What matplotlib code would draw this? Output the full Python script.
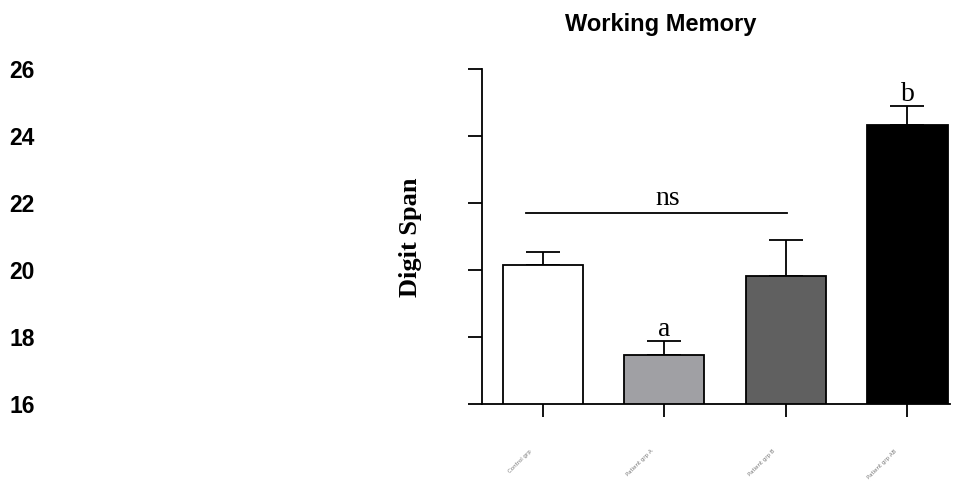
import matplotlib
matplotlib.use("Agg")
import matplotlib.pyplot as plt
from matplotlib.transforms import ScaledTranslation

groups = ["Control grp", "Patient grp A", "Patient grp B", "Patient grp AB"]
means = [20.15, 17.46, 19.82, 24.33]
sem_up = [0.39, 0.42, 1.08, 0.57]
colors = ["#ffffff", "#a0a0a4", "#606060", "#000000"]
yticks = [16, 18, 20, 22, 24, 26]
annot = ["", "a", "", "b"]

fig = plt.figure(figsize=(9.54, 4.82), dpi=100)
ax = fig.add_axes([482/954, 1-404/482, (950-482)/954, (404-69)/482])

x = list(range(len(groups)))
ax.bar(x, means, width=0.66, color=colors, edgecolor="black", linewidth=1.3, zorder=2)
ax.errorbar(x, means, yerr=[[0]*4, sem_up], fmt="none", ecolor="black",
            elinewidth=1.3, capsize=12, capthick=1.3, zorder=1)

ax.set_xlim(-0.5, 3.35)
ax.set_ylim(16, 26)
ax.set_yticks(yticks)
ax.set_yticklabels([str(t) for t in yticks], fontsize=16.5, fontweight="bold",
                   family=["Liberation Sans", "DejaVu Sans"])
ax.tick_params(axis="y", length=10, width=1.3, pad=312)
ax.set_xticks(x)
ax.set_xticklabels(groups, rotation=45, fontsize=4, color="#777777", ha="right")
ax.tick_params(axis="x", length=9, width=1.3, pad=23)
for lab in ax.get_xticklabels():
    lab.set_transform(lab.get_transform() + ScaledTranslation(-10/100, 0, fig.dpi_scale_trans))
for s in ["top", "right"]:
    ax.spines[s].set_visible(False)
for s in ["left", "bottom"]:
    ax.spines[s].set_linewidth(1.3)

for i, t in enumerate(annot):
    if t:
        ax.text(i, means[i] + sem_up[i] + 0.15, t, ha="center", va="baseline",
                fontsize=20, family=["Liberation Serif", "DejaVu Serif"])

ax.plot([-0.14, 2.01], [21.7, 21.7], color="black", lw=1.3)
ax.text(1.03, 21.95, "ns", ha="center", va="baseline", fontsize=20,
        family=["Liberation Serif", "DejaVu Serif"])

fig.text(411/954, 1-237/482, "Digit Span", rotation=90, ha="center", va="center",
         fontsize=19, fontweight="bold", family=["Liberation Serif", "DejaVu Serif"])
fig.text(661/954, 1-24/482, "Working Memory", ha="center", va="center",
         fontsize=17, fontweight="bold", family=["Liberation Sans", "DejaVu Sans"])

fig.savefig("out.png", dpi=100)
